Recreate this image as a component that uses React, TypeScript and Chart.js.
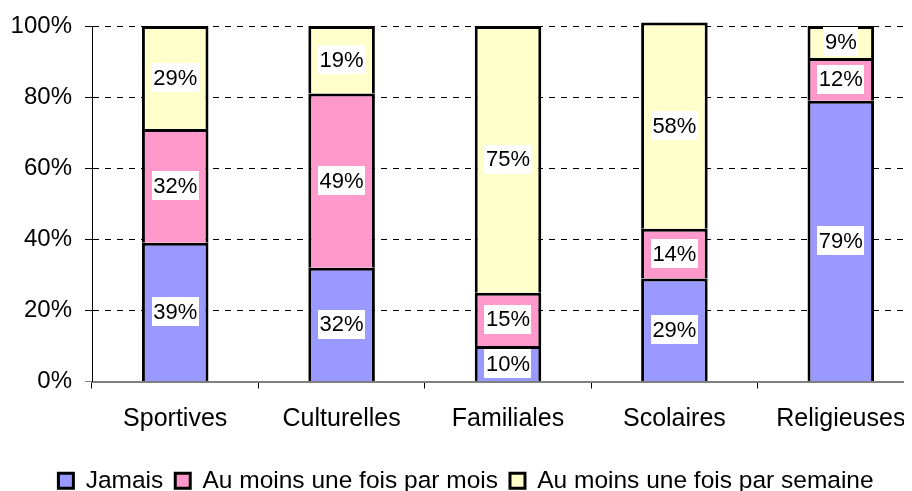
import React, { useEffect, useRef } from 'react';
import { Chart, registerables } from 'chart.js';

Chart.register(...registerables);

const FONT = "'Liberation Sans', Arial, sans-serif";

const categories = ['Sportives', 'Culturelles', 'Familiales', 'Scolaires', 'Religieuses'];
const seriesNames = ['Jamais', 'Au moins une fois par mois', 'Au moins une fois par semaine'];
const jamais = [39, 32, 10, 29, 79];
const parMois = [32, 49, 15, 14, 12];
const parSemaine = [29, 19, 75, 58, 9];
const seriesColors = ['#9999FF', '#FF99CC', '#FFFFCC'];
const yMin = 0;
const yMax = 100;
const yStep = 20;

const segmentLabels = {
  id: 'segmentLabels',
  afterDatasetsDraw(chart: any) {
    const ctx = chart.ctx;
    ctx.save();
    ctx.font = `22px ${FONT}`;
    ctx.textAlign = 'center';
    ctx.textBaseline = 'middle';
    chart.data.datasets.forEach((ds: any, di: number) => {
      const meta = chart.getDatasetMeta(di);
      meta.data.forEach((bar: any, i: number) => {
        const { x, y, base } = bar.getProps(['x', 'y', 'base'], true);
        const cy = (y + base) / 2;
        const text = ds.data[i] + '%';
        const w = ctx.measureText(text).width + 3;
        const h = 29;
        ctx.fillStyle = '#ffffff';
        ctx.fillRect(Math.round(x - w / 2), Math.round(cy - h / 2), Math.round(w), h);
        ctx.fillStyle = '#000000';
        ctx.fillText(text, x, cy + 1);
      });
    });
    ctx.restore();
  },
};

export default function App() {
  const canvasRef = useRef<HTMLCanvasElement | null>(null);

  useEffect(() => {
    document.documentElement.style.overflow = 'hidden';
    document.body.style.overflow = 'hidden';
    const canvas = canvasRef.current;
    if (!canvas) return;
    const data = [jamais, parMois, parSemaine];
    const chart = new Chart(canvas, {
      type: 'bar',
      data: {
        labels: categories,
        datasets: data.map((d, i) => ({
          label: seriesNames[i],
          data: d,
          backgroundColor: seriesColors[i],
          borderColor: '#000000',
          borderWidth: 3,
          borderSkipped: 'start',
          categoryPercentage: 1,
          barPercentage: 0.4,
          clip: false as any,
        })),
      },
      options: {
        animation: false,
        responsive: true,
        maintainAspectRatio: false,
        layout: { padding: { top: 0, right: 4, left: 0, bottom: 0 } },
        plugins: {
          tooltip: { enabled: false },
          legend: {
            position: 'bottom',
            labels: {
              boxWidth: 15,
              boxHeight: 15,
              padding: 12,
              color: '#000000',
              font: { family: FONT, size: 24.5 },
            },
          },
        },
        scales: {
          x: {
            stacked: true,
            afterFit: (s: any) => { s.height = 75; },
            grid: {
              offset: true,
              drawOnChartArea: false,
              drawTicks: true,
              tickLength: 7,
              color: '#000000',
              tickColor: '#000000',
            },
            border: { display: true, color: '#808080', width: 2 },
            ticks: {
              color: '#000000',
              font: { family: FONT, size: 25 },
              padding: 16,
              maxRotation: 0,
              autoSkip: false,
            },
          },
          y: {
            stacked: true,
            min: yMin,
            max: yMax,
            afterFit: (s: any) => { s.width = 84; s.paddingTop = 18; s.paddingBottom = 0; },
            grid: {
              color: (c: any) => (c.tick && c.tick.value === 0 ? 'rgba(0,0,0,0)' : '#000000'),
              tickColor: (c: any) => (c.tick && c.tick.value === 0 ? '#808080' : '#000000'),
              tickLength: 7,
              lineWidth: 1,
              tickBorderDash: [],
            },
            border: { display: true, color: '#000000', width: 1, dash: [6, 6] },
            ticks: {
              stepSize: yStep,
              color: '#000000',
              padding: 13,
              font: { family: FONT, size: 24 },
              callback: (v: any) => v + '%',
            },
          },
        },
      },
      plugins: [segmentLabels],
    });
    return () => chart.destroy();
  }, []);

  return (
    <div style={{ position: 'relative', width: 920, height: 495 }}>
      <canvas ref={canvasRef} />
    </div>
  );
}
